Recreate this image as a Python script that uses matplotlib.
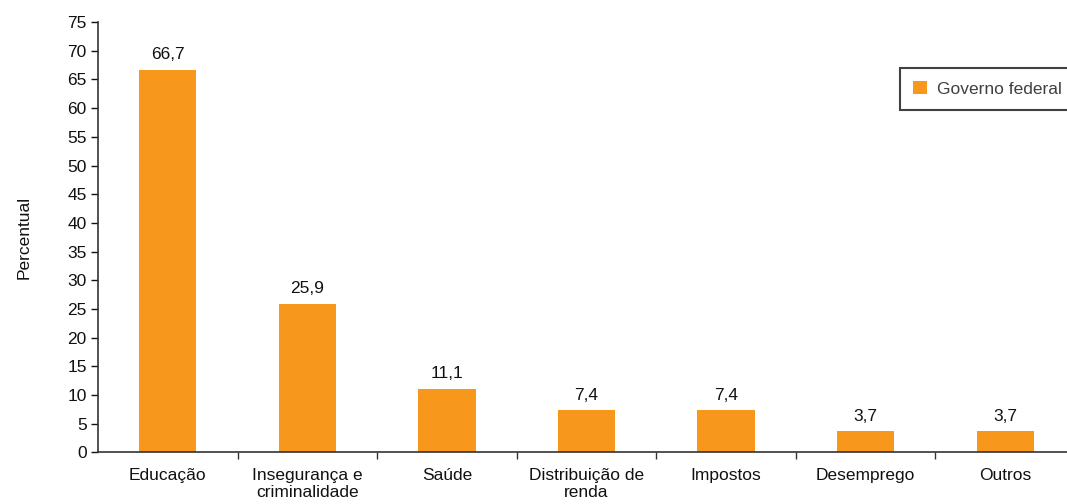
import matplotlib.pyplot as plt

plt.rcParams['font.family'] = ['Liberation Sans', 'DejaVu Sans']

categorias = ['Educação', 'Insegurança e\ncriminalidade', 'Saúde',
              'Distribuição de\nrenda', 'Impostos', 'Desemprego', 'Outros']
valores = [66.7, 25.9, 11.1, 7.4, 7.4, 3.7, 3.7]
rotulos = ['66,7', '25,9', '11,1', '7,4', '7,4', '3,7', '3,7']
serie = 'Governo federal'

fs = 12.5

fig = plt.figure(figsize=(10.67, 5.04), dpi=100)
ax = fig.add_axes([0.0918, 0.1022, 0.9157, 0.8541])

x = list(range(len(categorias)))
bars = ax.bar(x, valores, width=0.41, color='#F7981D', label=serie, zorder=2)
for b, t in zip(bars, rotulos):
    ax.text(b.get_x() + b.get_width() / 2, b.get_height() + 1.3, t,
            ha='center', va='bottom', fontsize=fs, color='#111111')

ax.set_xlim(-0.5, len(categorias) - 0.5)
ax.set_ylim(0, 75)
ax.set_yticks(range(0, 80, 5))
ax.tick_params(axis='y', labelsize=fs, length=5, width=1, direction='out',
               colors='#111111', pad=3)

ax.set_xticks(x)
ax.set_xticklabels(categorias, fontsize=fs, color='#111111', linespacing=1.15)
ax.tick_params(axis='x', which='major', length=0, pad=11)
ax.set_xticks([i + 0.5 for i in x[:-1]], minor=True)
ax.tick_params(axis='x', which='minor', length=5, width=1, direction='out',
               colors='#333333')

for s in ['top', 'right']:
    ax.spines[s].set_visible(False)
for s in ['left', 'bottom']:
    ax.spines[s].set_color('#333333')
    ax.spines[s].set_linewidth(1.2)

ax.set_ylabel('Percentual', fontsize=fs, color='#111111', labelpad=26)

leg = ax.legend(loc='upper left', bbox_to_anchor=(900 / 1067, 1 - 68 / 504),
                bbox_transform=fig.transFigure, fontsize=fs, frameon=True,
                fancybox=False, handlelength=0.8, handleheight=0.8,
                handletextpad=0.6, borderpad=0.75, borderaxespad=0)
leg.get_frame().set_edgecolor('#111111')
leg.get_frame().set_linewidth(1.5)
for t in leg.get_texts():
    t.set_color('#404040')

fig.savefig('out.png', dpi=100)
